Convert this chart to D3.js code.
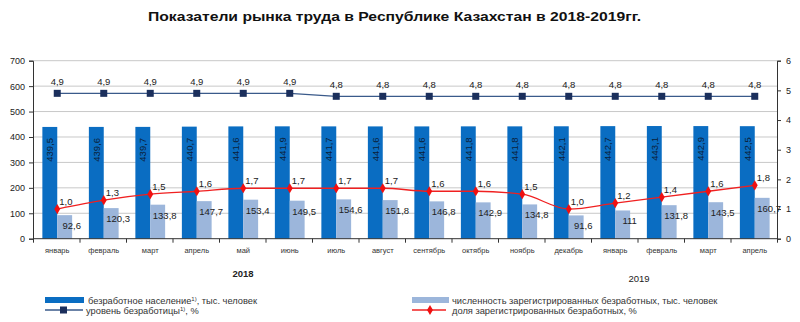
<!DOCTYPE html>
<html><head><meta charset="utf-8">
<script src="https://cdn.jsdelivr.net/npm/d3@7"></script>
<style>body{margin:0;background:#fff}svg{display:block}</style>
</head><body>
<svg id="c" width="800" height="322"></svg>
<script>
const months = ["январь","февраль","март","апрель","май","июнь","июль","август","сентябрь","октябрь","ноябрь","декабрь","январь","февраль","март","апрель"];
const unemployed = [439.5,439.6,439.7,440.7,441.6,441.9,441.7,441.6,441.6,441.8,441.8,442.1,442.7,443.1,442.9,442.5];
const registered = [92.6,120.3,133.8,147.7,153.4,149.5,154.6,151.8,146.8,142.9,134.8,91.6,111,131.8,143.5,160.7];
const unempRate = [4.9,4.9,4.9,4.9,4.9,4.9,4.8,4.8,4.8,4.8,4.8,4.8,4.8,4.8,4.8,4.8];
const regShare = [1.0,1.3,1.5,1.6,1.7,1.7,1.7,1.7,1.6,1.6,1.5,1.0,1.2,1.4,1.6,1.8];
const leftTicks = [0,100,200,300,400,500,600,700];
const rightTicks = [0,1,2,3,4,5,6];
const years = ["2018","2019"];

const svg = d3.select("#c");
const L=33, R=777, T=60.7, B=238.7;
const fmt = v => (Number.isInteger(v) && v>=100) ? String(v) : d3.format(".1f")(v).replace(".", ",");

const x = d3.scaleBand().domain(d3.range(months.length)).range([L,R]).padding(0);
const yL = d3.scaleLinear().domain([0,700]).range([B,T]);
const yR = d3.scaleLinear().domain([0,6]).range([B,T]);
const bw = x.bandwidth()*0.32;
const cx = i => x(i)+x.bandwidth()/2 + 1;

// title
svg.append("text").attr("x",394.5).attr("y",21).attr("text-anchor","middle")
  .attr("font-family","Liberation Sans, Arial").attr("font-weight","bold").attr("font-size",13.5)
  .attr("textLength",493).attr("lengthAdjust","spacingAndGlyphs").attr("fill","#111")
  .text("Показатели рынка труда в Республике Казахстан в 2018-2019гг.");

// gridlines
svg.append("g").selectAll("line").data(leftTicks.filter(d=>d>0)).join("line")
  .attr("x1",L).attr("x2",R).attr("y1",d=>yL(d)).attr("y2",d=>yL(d))
  .attr("stroke","#c8c8c8").attr("stroke-width",1);

// bars
svg.append("g").selectAll("rect").data(unemployed).join("rect")
  .attr("x",(d,i)=>cx(i)-bw).attr("width",bw).attr("y",d=>yL(d)).attr("height",d=>B-yL(d))
  .attr("fill","#0a6dc2");
svg.append("g").selectAll("rect").data(registered).join("rect")
  .attr("x",(d,i)=>cx(i)).attr("width",bw).attr("y",d=>yL(d)).attr("height",d=>B-yL(d))
  .attr("fill","#9cb6db");

// axes
const ax = svg.append("g").attr("font-family","Liberation Sans, Arial");
const axL = ax.append("g").attr("transform",`translate(${L},0)`)
  .call(d3.axisLeft(yL).tickValues(leftTicks).tickSize(4).tickPadding(4));
const axR = ax.append("g").attr("transform",`translate(${R},0)`)
  .call(d3.axisRight(yR).tickValues(rightTicks).tickFormat(d3.format("d")).tickSize(4).tickPadding(5));
const xb = d3.scaleLinear().domain([0,months.length]).range([L,R]);
const axB = ax.append("g").attr("transform",`translate(0,${B})`)
  .call(d3.axisBottom(xb).tickValues(d3.range(months.length+1)).tickSize(4).tickFormat(""));
[axL,axR,axB].forEach(g=>{
  g.select(".domain").attr("stroke","#333");
  g.selectAll(".tick line").attr("stroke","#333");
  g.selectAll(".tick text").attr("font-size",9).attr("fill","#222");
});
axB.selectAll(".domain").attr("d",`M${L},0H${R}`);

// month labels
svg.append("g").selectAll("text").data(months).join("text")
  .attr("x",(d,i)=>x(i)+x.bandwidth()/2+1).attr("y",253).attr("text-anchor","middle")
  .attr("font-family","Liberation Sans, Arial").attr("font-size",7.5).attr("fill","#333").text(d=>d);

// year labels
svg.append("text").attr("x",243).attr("y",277).attr("text-anchor","middle")
  .attr("font-family","Liberation Sans, Arial").attr("font-weight","bold").attr("font-size",9.5).attr("fill","#222").text(years[0]);
svg.append("text").attr("x",639).attr("y",282).attr("text-anchor","middle")
  .attr("font-family","Liberation Sans, Arial").attr("font-size",9.5).attr("fill","#222").text(years[1]);

// dark bar labels (rotated)
svg.append("g").selectAll("text").data(unemployed).join("text")
  .attr("transform",(d,i)=>`translate(${cx(i)-bw/2+3.5},${yL(d)+11}) rotate(-90)`)
  .attr("text-anchor","end").attr("font-family","Liberation Sans, Arial").attr("font-size",9.5)
  .attr("fill","#0b1f3a").text(d=>fmt(d));

// light bar labels
svg.append("g").selectAll("text").data(registered).join("text")
  .attr("x",(d,i)=>cx(i)+bw/2+7).attr("y",d=>yL(d)+14).attr("text-anchor","middle")
  .attr("font-family","Liberation Sans, Arial").attr("font-size",9.5).attr("fill","#222").text(d=>fmt(d));

// unemployment rate line
const lineRate = d3.line().x((d,i)=>cx(i)).y(d=>yR(d));
svg.append("path").datum(unempRate).attr("d",lineRate).attr("fill","none").attr("stroke","#3a5a8a").attr("stroke-width",1.3);
svg.append("g").selectAll("rect").data(unempRate).join("rect")
  .attr("x",(d,i)=>cx(i)-3.5).attr("y",d=>yR(d)-3.5).attr("width",7).attr("height",7).attr("fill","#1b2f5c");
svg.append("g").selectAll("text").data(unempRate).join("text")
  .attr("x",(d,i)=>cx(i)).attr("y",d=>yR(d)-8).attr("text-anchor","middle")
  .attr("font-family","Liberation Sans, Arial").attr("font-size",9.5).attr("fill","#222").text(d=>fmt(d));

// registered share line
svg.append("path").datum(regShare).attr("d",d3.line().x((d,i)=>cx(i)).y(d=>yR(d)).curve(d3.curveMonotoneX))
  .attr("fill","none").attr("stroke","#f02020").attr("stroke-width",1.3);
svg.append("g").selectAll("path").data(regShare).join("path")
  .attr("d",d3.symbol(d3.symbolDiamond,30)).attr("transform",(d,i)=>`translate(${cx(i)},${yR(d)})`).attr("fill","#f01010");
svg.append("g").selectAll("text").data(regShare).join("text")
  .attr("x",(d,i)=>cx(i)+2).attr("y",d=>yR(d)-4).attr("text-anchor","start")
  .attr("font-family","Liberation Sans, Arial").attr("font-size",9.5).attr("fill","#222").text(d=>fmt(d));

// legend
const lg = svg.append("g").attr("font-family","Liberation Sans, Arial").attr("font-size",9.3).attr("fill","#333");
lg.append("rect").attr("x",45).attr("y",297).attr("width",39).attr("height",6).attr("fill","#0a6dc2");
lg.append("rect").attr("x",412).attr("y",297).attr("width",37).attr("height",6).attr("fill","#9cb6db");
lg.append("line").attr("x1",45).attr("x2",83).attr("y1",310).attr("y2",310).attr("stroke","#3a5a8a").attr("stroke-width",1.3);
lg.append("rect").attr("x",60).attr("y",306.5).attr("width",7).attr("height",7).attr("fill","#1b2f5c");
lg.append("line").attr("x1",412).attr("x2",446).attr("y1",310).attr("y2",310).attr("stroke","#f02020").attr("stroke-width",1.3);
lg.append("path").attr("d",d3.symbol(d3.symbolDiamond,30)).attr("transform","translate(430,310)").attr("fill","#f01010");

function legText(xp,yp,parts){
  const t = lg.append("text").attr("x",xp).attr("y",yp);
  parts.forEach(p=>{
    const s = t.append("tspan").text(p.t);
    if(p.sup) s.attr("font-size",6).attr("dy",-3);
    if(p.after) s.attr("dy",3);
  });
}
legText(88,303.5,[{t:"безработное население"},{t:"1)",sup:true},{t:",  тыс. человек",after:true}]);
legText(86,313.5,[{t:"уровень безработицы"},{t:"1)",sup:true},{t:", %",after:true}]);
legText(452,303.5,[{t:"численность зарегистрированных  безработных, тыс. человек"}]);
legText(452,313.5,[{t:"доля зарегистрированных безработных, %"}]);
</script>
</body></html>
